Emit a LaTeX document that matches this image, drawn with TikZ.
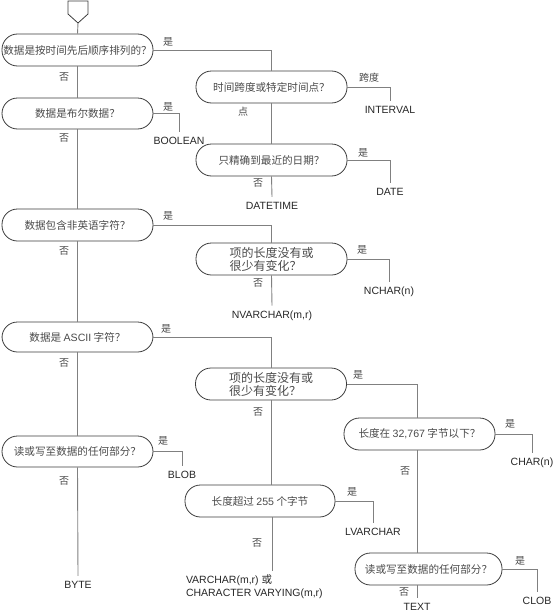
\documentclass[tikz,border=0pt]{standalone}
\usepackage{fontspec}
\setmainfont{Liberation Sans}
\newfontfamily\cjk{Noto Sans CJK SC}
\newfontfamily\lat{Liberation Sans}
\definecolor{bordercol}{HTML}{3C3C3C}
\definecolor{linecol}{HTML}{808080}
\definecolor{textcol}{HTML}{4A4A4A}
\definecolor{termcol}{HTML}{262626}
\begin{document}
\begin{tikzpicture}[x=1pt,y=-1pt,
  dec/.style={draw=bordercol, line width=0.8pt, rounded corners=15.5pt,
    minimum width=151pt, minimum height=32pt, inner sep=0pt, text=textcol,
    font=\cjk\fontsize{10.6}{12}\selectfont},
  dec2/.style={dec, align=left, font=\cjk\fontsize{12}{13}\selectfont},
  conn/.style={draw=linecol, line width=0.9pt},
  lab/.style={text=textcol, inner sep=0pt, font=\cjk\fontsize{10}{12}\selectfont},
  term/.style={text=termcol, inner sep=0pt, outer sep=5pt, font=\fontsize{10.5}{13}\selectfont},
]
\useasboundingbox (0,0) rectangle (554,613);

% start symbol
\draw[draw=bordercol, line width=0.8pt] (68,1) -- (88,1) -- (88,14) -- (78,23) -- (68,14) -- cycle;
\coordinate (start) at (78,23);

% decision nodes
\node[dec] (n1)  at (77.5,50)   {数据是按时间先后顺序排列的？};
\node[dec, minimum height=31pt] (nb)  at (77.5,113.5) {数据是布尔数据？};
\node[dec] (nt)  at (271.5,87)  {时间跨度或特定时间点？};
\node[dec] (nd)  at (271.5,160) {只精确到最近的日期？};
\node[dec] (nn)  at (77.5,225)  {数据包含非英语字符？};
\node[dec2] (nv1) at (271.5,259) {项的长度没有或\\很少有变化？};
\node[dec, minimum height=30pt] (na)  at (77.5,337)  {数据是 {\lat ASCII} 字符？};
\node[dec2] (nv2) at (271,384)   {项的长度没有或\\很少有变化？};
\node[dec] (n32) at (419.5,434) {长度在 {\lat 32,767} 字节以下？};
\node[dec, minimum height=31pt] (nrw) at (77.5,451.5) {读或写至数据的任何部分？};
\node[dec, minimum width=150pt] (n255) at (260,501) {长度超过 {\lat 255} 个字节};
\node[dec, minimum width=147pt] (nrw3) at (428.5,569) {读或写至数据的任何部分？};

% terminals
\node[term] (tbool)  at (179,141)   {BOOLEAN};
\node[term] (tint)   at (390,110)   {INTERVAL};
\node[term] (tdate)  at (390,192)   {DATE};
\node[term] (tdt)    at (272,205.5) {DATETIME};
\node[term] (tnchar) at (389,292)   {NCHAR(n)};
\node[term] (tnvar)  at (272,315.5) {NVARCHAR(m,r)};
\node[term] (tchar)  at (532,463)   {CHAR(n)};
\node[term] (tblob)  at (182,475)   {BLOB};
\node[term] (tbyte)  at (78,584.5)  {BYTE};
\node[term] (tlv)    at (373,532)   {LVARCHAR};
\node[term] (tclob)  at (537,601)   {CLOB};
\node[term] (ttext)  at (417,607)   {TEXT};
\node[term, outer sep=0pt, anchor=north west, align=left] (tvar) at (186,574.5)
  {VARCHAR(m,r) {\cjk 或}\\CHARACTER VARYING(m,r)};

% helper coordinates
\coordinate (x272) at (272,0);
\coordinate (x417) at (417,0);
\coordinate (vend) at (272,571);

% left column
\draw[conn] (start) -- (n1.north);
\draw[conn] (n1.south) -- (nb.north);
\draw[conn] (nb.south) -- (nn.north);
\draw[conn] (nn.south) -- (na.north);
\draw[conn] (na.south) -- (nrw.north);
\draw[conn] (nrw.south) -- (tbyte.north);

% branches
\draw[conn] (n1.east) -| (nt.north);
\draw[conn] (nb.east) -| (tbool.north);
\draw[conn] (nt.east) -| (tint.north);
\draw[conn] (nt.south) -- (nd.north);
\draw[conn] (nd.east) -| (tdate.north);
\draw[conn] (nd.south) -- (tdt.north);
\draw[conn] (nn.east) -| (nv1.north);
\draw[conn] (nv1.east) -| (tnchar.north);
\draw[conn] (nv1.south) -- (tnvar.north);
\draw[conn] (na.east) -| (nv2.north);
\draw[conn] (nv2.east) -| (n32.north -| x417);
\draw[conn] (nv2.south) -- (n255.north -| nv2.south);
\draw[conn] (n255.south -| x272) -- (vend);
\draw[conn] (n255.east) -| (tlv.north);
\draw[conn] (n32.east) -| (tchar.north);
\draw[conn] (n32.south -| x417) -- (nrw3.north -| x417);
\draw[conn] (nrw3.east) -| (tclob.north);
\draw[conn] (nrw3.south -| x417) -- (ttext.north);
\draw[conn] (nrw.east) -| (tblob.north);

% edge labels
\node[lab] (l1y)  at (168,42)  {是};
\node[lab] (l1n)  at (64,77)   {否};
\node[lab] (lby)  at (168,107) {是};
\node[lab] (lbn)  at (64,138)  {否};
\node[lab] (lts)  at (369,78)  {跨度};
\node[lab] (ltp)  at (243,112) {点};
\node[lab] (ldy)  at (363,152.5) {是};
\node[lab] (ldn)  at (258,183) {否};
\node[lab] (lny)  at (168,216) {是};
\node[lab] (lnn)  at (64,251)  {否};
\node[lab] (lv1y) at (362,250) {是};
\node[lab] (lv1n) at (258,283) {否};
\node[lab] (lay)  at (166,329) {是};
\node[lab] (lan)  at (64,362.5) {否};
\node[lab] (lv2y) at (358,375) {是};
\node[lab] (lv2n) at (258,412) {否};
\node[lab] (l32y) at (510,423.5) {是};
\node[lab] (l32n) at (405,470.5) {否};
\node[lab] (lrwy) at (163,440.5) {是};
\node[lab] (lrwn) at (64,481)  {否};
\node[lab] (l255y) at (352,492) {是};
\node[lab] (l255n) at (257,542.5) {否};
\node[lab] (lr3y) at (520,561) {是};
\node[lab] (lr3n) at (404,592) {否};
\end{tikzpicture}
\end{document}
